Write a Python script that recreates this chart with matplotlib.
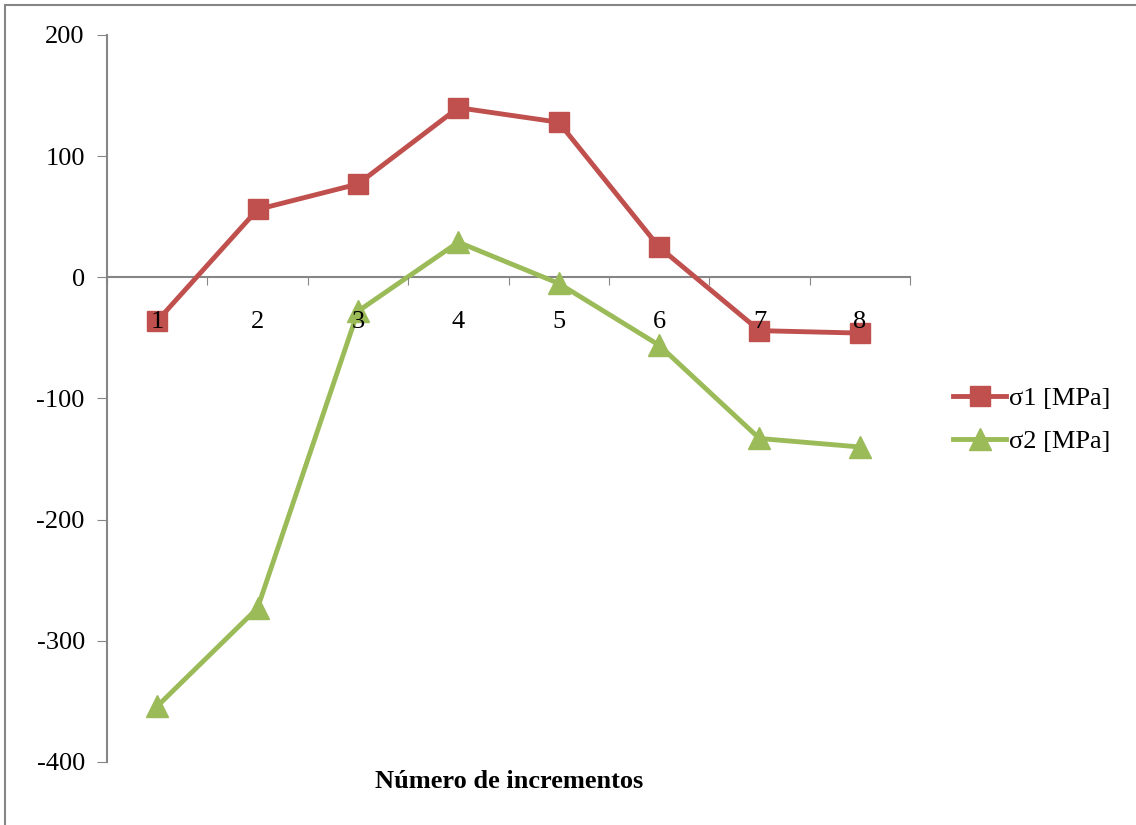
import numpy as np
import matplotlib.pyplot as plt
from matplotlib.patches import Rectangle

plt.rcParams['font.family'] = ['Liberation Serif', 'DejaVu Serif']
plt.rcParams['axes.unicode_minus'] = False

incrementos = [1, 2, 3, 4, 5, 6, 7, 8]
sigma1 = [-36, 56, 77, 140, 128, 25, -44, -46]
sigma2 = [-354, -273, -28, 29, -5, -56, -133, -140]

fig = plt.figure(figsize=(11.36, 8.25), dpi=100)
ax = fig.add_axes([107/1136, 1-762/825, (910-107)/1136, (762-35)/825])

ax.plot(incrementos, sigma1, color='#C0504D', lw=3.5, marker='s', ms=14,
        label='σ1 [MPa]', clip_on=False, zorder=3)
ax.plot(incrementos, sigma2, color='#9BBB59', lw=3.5, marker='^', ms=16,
        label='σ2 [MPa]', clip_on=False, zorder=3)

ax.set_xlim(0.5, 8.5)
ax.set_ylim(-400, 200)
ax.set_yticks([200, 100, 0, -100, -200, -300, -400])

# category boundaries as ticks, labels centred between them
ax.set_xticks(np.arange(0.5, 9, 1))
ax.set_xticklabels([])
ax.set_xticks(incrementos, minor=True)
ax.set_xticklabels([str(i) for i in incrementos], minor=True)
ax.tick_params(axis='x', which='major', direction='out', length=6, color='#868686')
ax.tick_params(axis='x', which='minor', length=0, pad=24, labelsize=19)
ax.tick_params(axis='y', direction='out', length=7, color='#868686', labelsize=19, pad=9)
ax.xaxis.set_zorder(4)  # category labels sit on top of the markers

for s in ['top', 'right']:
    ax.spines[s].set_visible(False)
ax.spines['bottom'].set_position(('data', 0))
for s in ['left', 'bottom']:
    ax.spines[s].set_color('#868686')
    ax.spines[s].set_linewidth(1.5)

fig.text(509/1136, 1-782/825, 'Número de incrementos', ha='center', va='center',
         fontsize=19, fontweight='bold')

ax.legend(loc='center left', bbox_to_anchor=(940/1136, 1-420/825),
          bbox_transform=fig.transFigure, frameon=False, fontsize=19,
          handlelength=2.0, handletextpad=0.1, labelspacing=0.75, borderpad=0)

fig.patches.append(Rectangle((5/1136, -0.05), 1.1, 1.05-5/825, transform=fig.transFigure,
                             fill=False, edgecolor='#868686', lw=1.5))

fig.savefig('out.png', dpi=100)
